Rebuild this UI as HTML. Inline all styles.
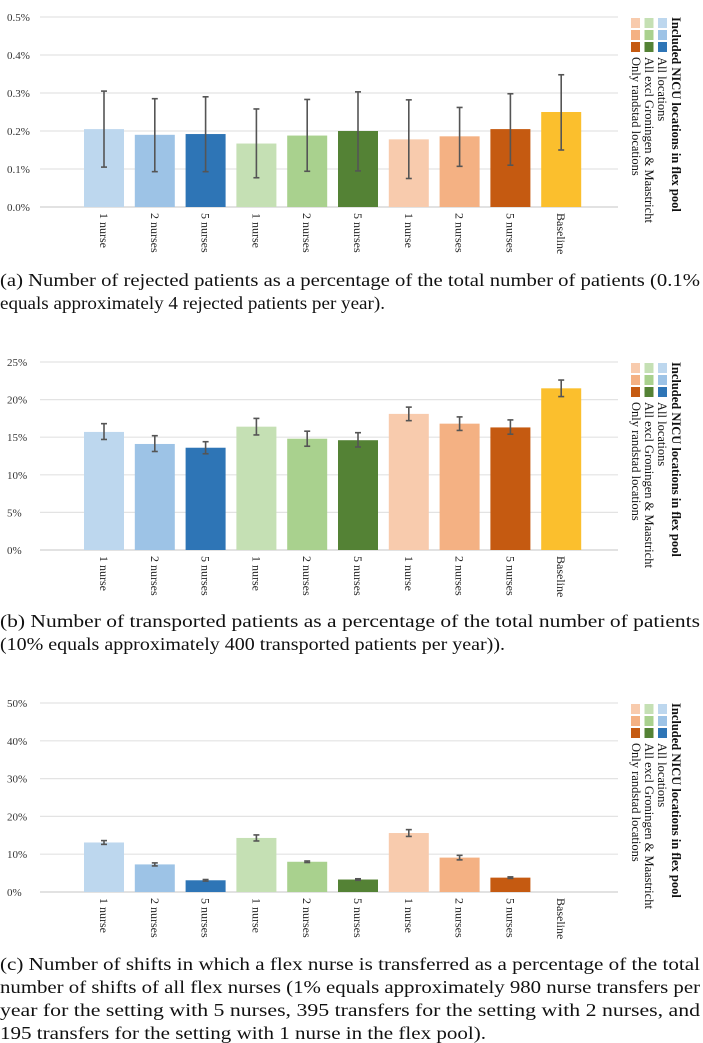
<!DOCTYPE html>
<html><head><meta charset="utf-8"><style>
html,body{margin:0;padding:0;background:#fff;}
svg{display:block;}
.tk{font-family:"Liberation Serif",serif;font-size:11px;fill:#333;}
.cat{font-family:"Liberation Serif",serif;font-size:12px;fill:#222;}
.cap{font-family:"Liberation Serif",serif;font-size:17.5px;fill:#111;}
.lg{font-family:"Liberation Serif",serif;font-size:12.5px;fill:#111;}
</style></head><body>
<svg id="page" width="703" height="1043" viewBox="0 0 703 1043" xmlns="http://www.w3.org/2000/svg"></svg>
<script>
const categories = ["1 nurse","2 nurses","5 nurses","1 nurse","2 nurses","5 nurses","1 nurse","2 nurses","5 nurses","Baseline"];
const colorsList = ["#BDD7EE","#9DC3E6","#2E75B6","#C5E0B4","#A9D18E","#548235","#F8CBAD","#F4B183","#C55A11","#FBBF2D"];
const rejectedValues = [0.205,0.19,0.192,0.167,0.188,0.2,0.178,0.186,0.205,0.25];
const rejectedLow = [0.105,0.093,0.093,0.077,0.094,0.095,0.075,0.107,0.11,0.15];
const rejectedHigh = [0.305,0.285,0.29,0.258,0.283,0.303,0.282,0.262,0.298,0.348];
const rejectedTicks = ["0.0%","0.1%","0.2%","0.3%","0.4%","0.5%"];
const transportedValues = [15.7,14.1,13.6,16.4,14.8,14.6,18.1,16.8,16.3,21.5];
const transportedLow = [14.7,13.1,12.8,15.3,13.8,13.7,17.2,15.9,15.4,20.4];
const transportedHigh = [16.8,15.2,14.4,17.5,15.8,15.6,19.0,17.7,17.3,22.6];
const transportedTicks = ["0%","5%","10%","15%","20%","25%"];
const shiftValues = [13.1,7.3,3.1,14.3,8.0,3.3,15.6,9.1,3.8,0];
const shiftLow = [12.6,6.9,2.9,13.5,7.8,3.1,14.7,8.5,3.6,0];
const shiftHigh = [13.6,7.7,3.3,15.1,8.2,3.5,16.5,9.7,4.0,0];
const shiftTicks = ["0%","10%","20%","30%","40%","50%"];
const legendLabels = ["All locations","All excl Groningen & Maastricht","Only randstad locations"];

const NS="http://www.w3.org/2000/svg";
const svg=document.getElementById('page');
function mk(tag,attrs,parent){const e=document.createElementNS(NS,tag);for(const k in attrs)e.setAttribute(k,attrs[k]);(parent||svg).appendChild(e);return e;}

function chart(id,values,low,high,ticks,maxV,yTop,yZero){
  const g=mk('g',{});
  
  
  const y=v=>yZero-(v/maxV)*(yZero-yTop);
  const x=i=>104+50.8*i;
  ticks.forEach((t,k)=>{
    const v=maxV*k/(ticks.length-1);
    const ln=mk('line',{x1:40,x2:618,y1:y(v),y2:y(v),stroke:k===0?'#d0d0d0':'#e3e3e3','stroke-width':1.2},g);
    
    
    const tx=mk('text',{x:7,y:y(v)+4,class:'tk'},g);tx.textContent=t;
    
    
  });
  values.forEach((v,i)=>{
    if(v>0){
      const r=mk('rect',{x:x(i)-20,y:y(v),width:40,height:yZero-y(v),fill:colorsList[i]},g);
      
      
      const e=mk('g',{stroke:'#555','stroke-width':1.6},g);
      
      
      mk('line',{x1:x(i),x2:x(i),y1:y(low[i]),y2:y(high[i])},e);
      mk('line',{x1:x(i)-3,x2:x(i)+3,y1:y(low[i]),y2:y(low[i])},e);
      mk('line',{x1:x(i)-3,x2:x(i)+3,y1:y(high[i]),y2:y(high[i])},e);
    }
    const t=mk('text',{x:0,y:0,class:'cat',transform:'translate('+(x(i)-4)+','+(yZero+6)+') rotate(90)'},g);
    t.textContent=categories[i];
    
    
  });
  const lg=mk('g',{},g);
  
  
  const cols=[[6,7,8],[3,4,5],[0,1,2]];
  const cx=[631,644.5,658];
  cols.forEach((c,ci)=>c.forEach((ci2,ri)=>{
    const s=mk('rect',{x:cx[ci],y:yTop+1+ri*12,width:9,height:10,fill:colorsList[ci2]},lg);
    
    
  }));
  const tt=mk('text',{x:0,y:0,class:'lg','font-weight':'bold',transform:'translate(672,'+yTop+') rotate(90)'},lg);
  tt.textContent='Included NICU locations in flex pool';
  
  
  const lx=[658,645,632];
  legendLabels.forEach((l,k)=>{
    const t=mk('text',{x:0,y:0,class:'lg',transform:'translate('+lx[k]+','+(yTop+40)+') rotate(90)'},lg);
    t.textContent=l;
    
    
  });
}
chart('rejected',rejectedValues,rejectedLow,rejectedHigh,rejectedTicks,0.5,17,207);
chart('transported',transportedValues,transportedLow,transportedHigh,transportedTicks,25,362,550);
chart('shifts',shiftValues,shiftLow,shiftHigh,shiftTicks,50,703,892);

function cap(name,lines){
  lines.forEach(([txt,yy,w],k)=>{
    const t=mk('text',{x:0,y:yy,class:'cap',textLength:w,lengthAdjust:'spacingAndGlyphs'});
    t.textContent=txt;
    
    
  });
}
cap('caption-a',[["(a) Number of rejected patients as a percentage of the total number of patients (0.1%",286,700],["equals approximately 4 rejected patients per year).",309,385]]);
cap('caption-b',[["(b) Number of transported patients as a percentage of the total number of patients",627,700],["(10% equals approximately 400 transported patients per year)).",650,505]]);
cap('caption-c',[["(c) Number of shifts in which a flex nurse is transferred as a percentage of the total",970,700],["number of shifts of all flex nurses (1% equals approximately 980 nurse transfers per",993,700],["year for the setting with 5 nurses, 395 transfers for the setting with 2 nurses, and",1016,700],["195 transfers for the setting with 1 nurse in the flex pool).",1039,486]]);
</script>
</body></html>
